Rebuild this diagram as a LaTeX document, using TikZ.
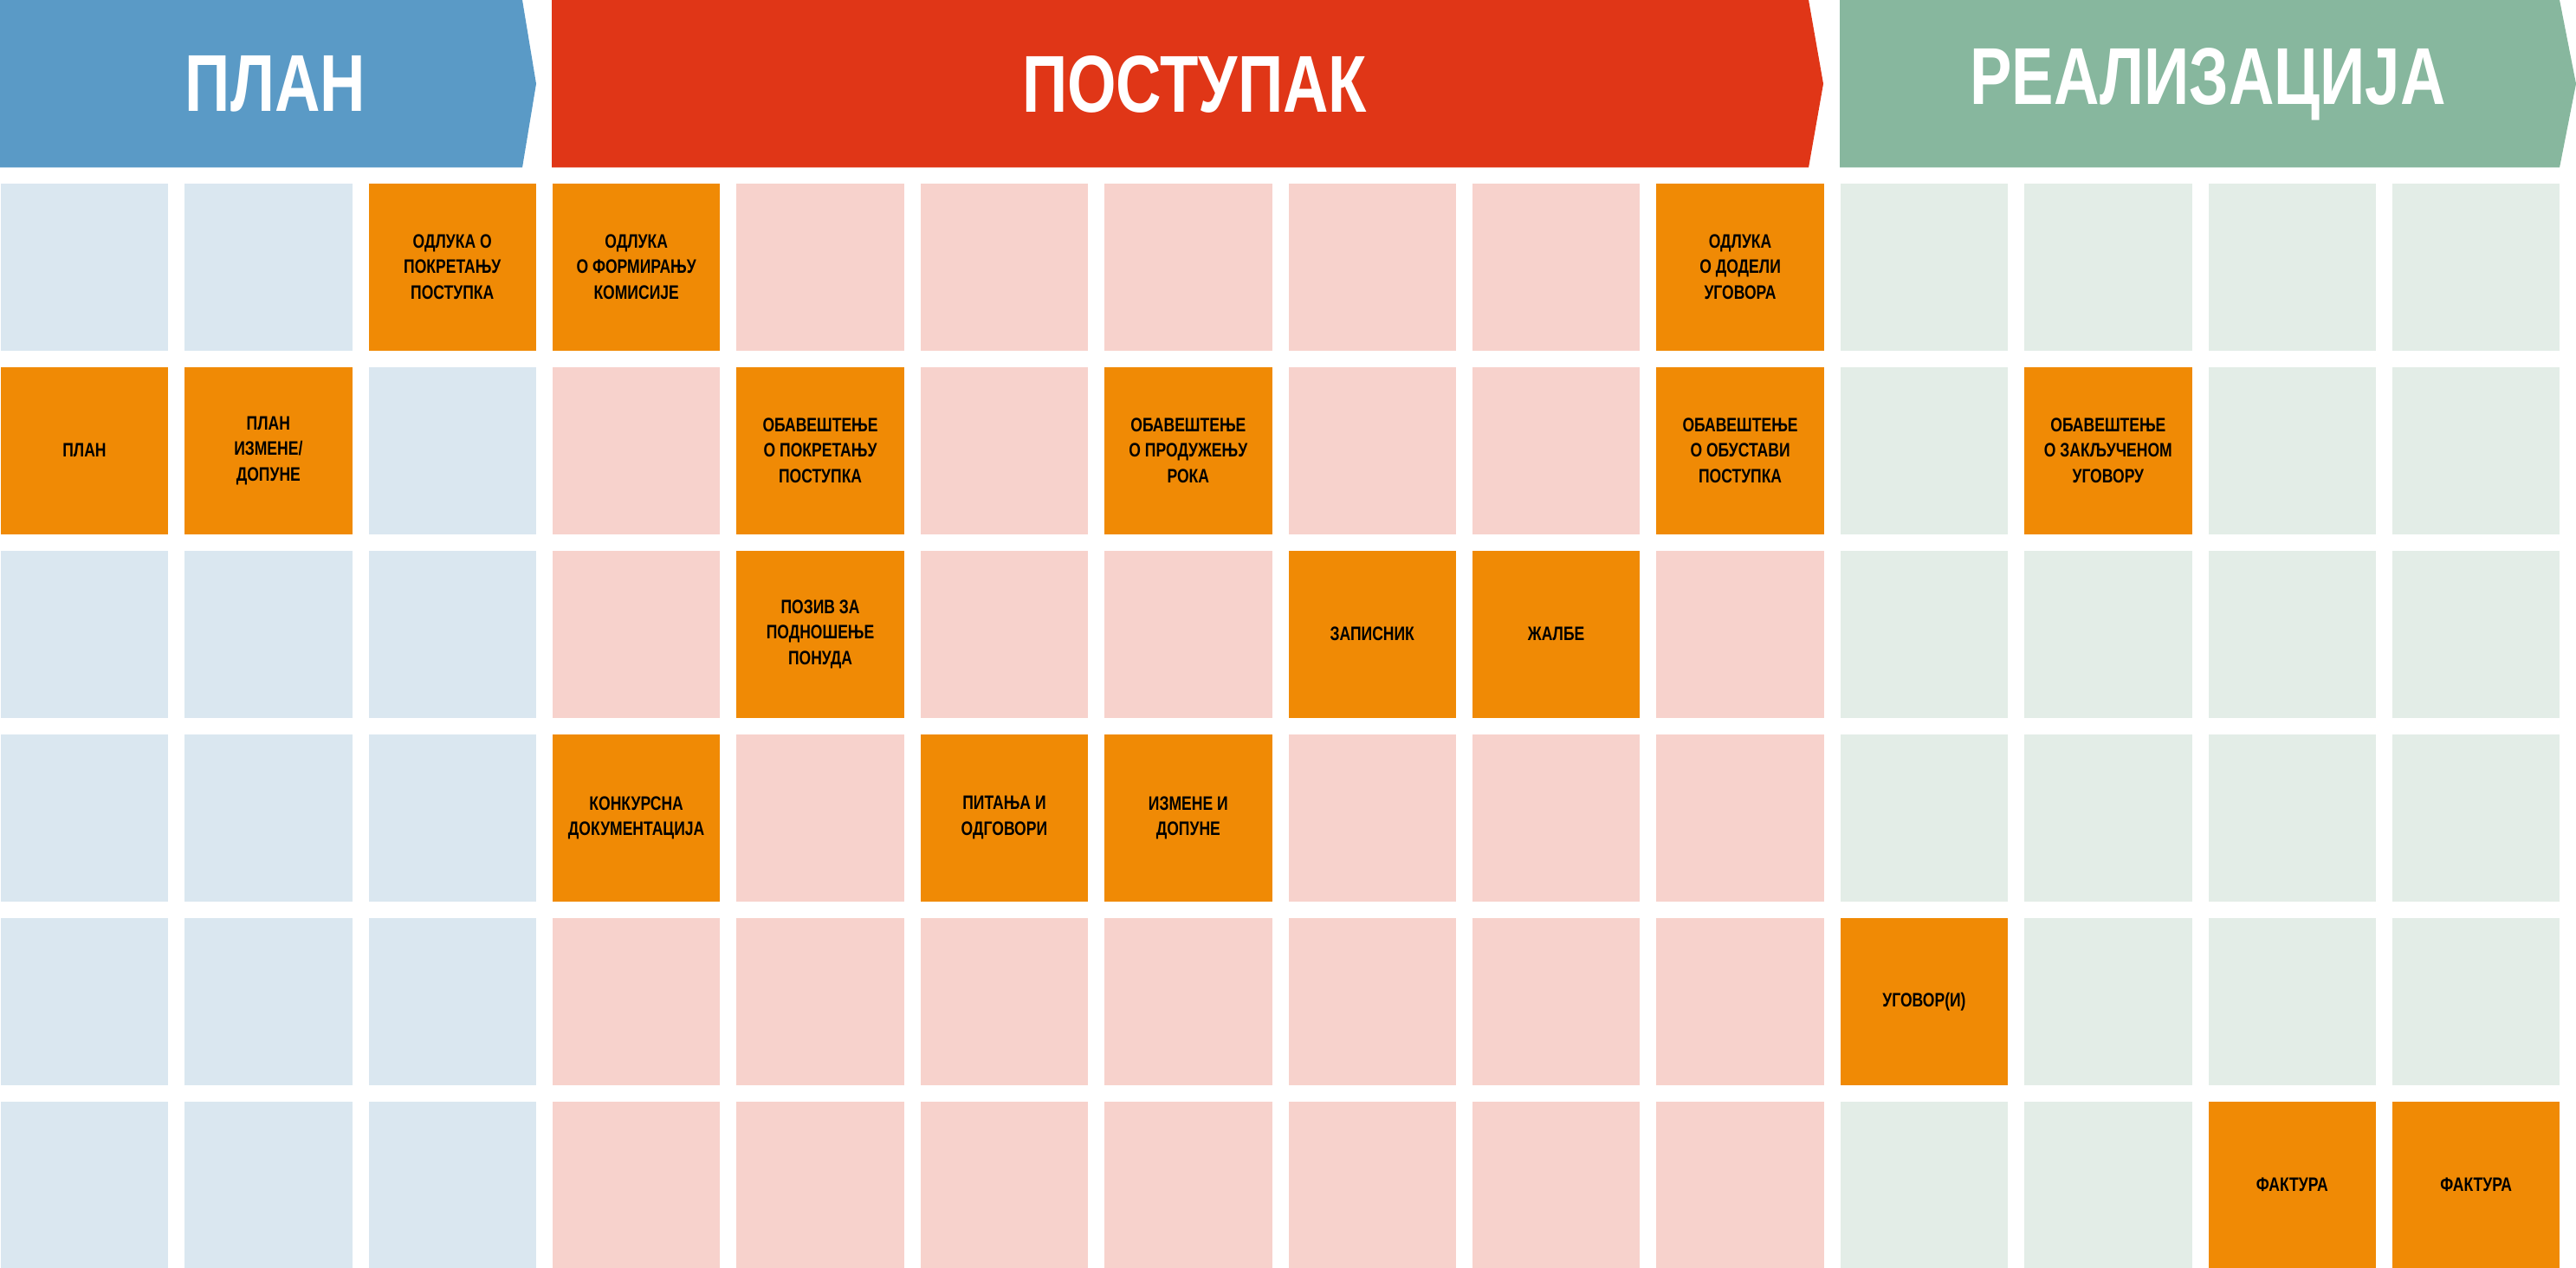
\documentclass[tikz,border=0pt]{standalone}
\usepackage{fontspec}
\setmainfont{Liberation Sans}[FakeStretch=0.78]
\definecolor{PlanBlue}{RGB}{90,154,198}
\definecolor{PostRed}{RGB}{224,54,23}
\definecolor{RealGreen}{RGB}{135,183,158}
\definecolor{DocOrange}{RGB}{240,138,5}
\definecolor{PlanPale}{RGB}{218,231,240}
\definecolor{PostPale}{RGB}{247,210,204}
\definecolor{RealPale}{RGB}{227,237,231}
\tikzset{
  celija/.style={minimum width=1.935cm, minimum height=1.93cm, inner sep=0pt,
                 anchor=north west},
  dokument/.style={celija, fill=DocOrange, align=center, text=black,
                 font=\fontsize{6.4}{8.4}\selectfont\bfseries},
  faza/.style={font=\fontsize{26.5}{30}\selectfont\bfseries, text=white},
}
\begin{document}
\begin{tikzpicture}
  \useasboundingbox (0,0) rectangle (29.74,-14.64);

  % Faze: strelice u zaglavlju
  \fill[PlanBlue] (0,0) -- (6.03,0) -- (6.19,-0.9675) -- (6.03,-1.935) -- (0,-1.935) -- cycle;
  \fill[PostRed] (6.372,0) -- (20.88,0) -- (21.05,-0.9675) -- (20.88,-1.935) -- (6.372,-1.935) -- cycle;
  \fill[RealGreen] (21.24,0) -- (29.55,0) -- (29.74,-0.9675) -- (29.55,-1.935) -- (21.24,-1.935) -- cycle;
  \node[faza] (plan) at (3.18,-0.97) {ПЛАН};
  \node[faza] (postupak) at (13.79,-0.97) {ПОСТУПАК};
  \node[faza] (realizacija) at (25.49,-0.97) {РЕАЛИЗАЦИЈА};

  % Prazna polja po fazama
  \foreach \a/\b/\boja in {1/3/PlanPale, 4/10/PostPale, 11/14/RealPale}{
    \foreach \c in {\a,...,\b}\foreach \r in {1,...,6}{
      \node[celija, fill=\boja] (c\c-\r) at ({(\c-1)*2.124},{-2.11-(\r-1)*2.12}) {};
    }
  }

  % Dokumenti (kolona/red/tekst)
  \foreach \c/\r/\tekst in {
      3/1/{ОДЛУКА О\\ПОКРЕТАЊУ\\ПОСТУПКА},
      4/1/{ОДЛУКА\\О ФОРМИРАЊУ\\КОМИСИЈЕ},
      10/1/{ОДЛУКА\\О ДОДЕЛИ\\УГОВОРА},
      1/2/{ПЛАН},
      2/2/{ПЛАН\\ИЗМЕНЕ/\\ДОПУНЕ},
      5/2/{ОБАВЕШТЕЊЕ\\О ПОКРЕТАЊУ\\ПОСТУПКА},
      7/2/{ОБАВЕШТЕЊЕ\\О ПРОДУЖЕЊУ\\РОКА},
      10/2/{ОБАВЕШТЕЊЕ\\О ОБУСТАВИ\\ПОСТУПКА},
      12/2/{ОБАВЕШТЕЊЕ\\О ЗАКЉУЧЕНОМ\\УГОВОРУ},
      5/3/{ПОЗИВ ЗА\\ПОДНОШЕЊЕ\\ПОНУДА},
      8/3/{ЗАПИСНИК},
      9/3/{ЖАЛБЕ},
      4/4/{КОНКУРСНА\\ДОКУМЕНТАЦИЈА},
      6/4/{ПИТАЊА И\\ОДГОВОРИ},
      7/4/{ИЗМЕНЕ И\\ДОПУНЕ},
      11/5/{УГОВОР(И)},
      13/6/{ФАКТУРА},
      14/6/{ФАКТУРА}}{
    \node[dokument] (d\c-\r) at ({(\c-1)*2.124},{-2.11-(\r-1)*2.12}) {\tekst};
  }
\end{tikzpicture}
\end{document}
